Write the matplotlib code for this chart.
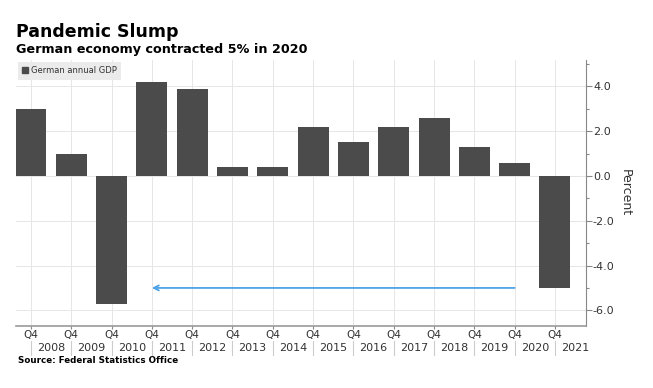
import matplotlib.pyplot as plt
import numpy             as np
from   matplotlib.patches    import Patch
from   matplotlib.ticker     import MultipleLocator
from   matplotlib.transforms import blended_transform_factory


years  = [2007, 2008, 2009, 2010, 2011, 2012, 2013, 2014, 2015, 2016, 2017, 2018, 2019, 2020]
gdp    = [3.0, 1.0, -5.7, 4.2, 3.9, 0.4, 0.4, 2.2, 1.5, 2.2, 2.6, 1.3, 0.6, -5.0]
yearLabels = [str(y + 1) for y in years]   # label between Q4 ticks

# arrow from 2019 back to 2010 at the 2020 level
arrowFrom = 2019
arrowTo   = 2010
arrowY    = -5.0

barColor  = '#4b4b4b'
gridColor = '#e6e6e6'
textColor = '#333333'

x = np.arange(len(years))

fig = plt.figure(figsize=(6.53, 3.88), dpi=100)
ax  = fig.add_axes([16/653, 62/388, (586-16)/653, (326-60)/388])

ax.bar(x, gdp, width=0.77, color=barColor, zorder=2)

ax.set_xlim(-0.37, len(years) - 1 + 0.77)
ax.set_ylim(-6.7, 5.18)

# y axis on the right
ax.yaxis.tick_right()
ax.yaxis.set_label_position('right')
ax.yaxis.set_major_locator(MultipleLocator(2))
ax.yaxis.set_minor_locator(MultipleLocator(1))
ax.yaxis.set_major_formatter(plt.FuncFormatter(lambda v, p: f'{v:.1f}'))
ax.tick_params(axis='y', which='major', length=4, width=0.8, color='#888888',
               labelsize=8, labelcolor=textColor, pad=1)
ax.tick_params(axis='y', which='minor', length=2, width=0.8, color='#888888')
ax.set_ylabel('Percent', rotation=-90, labelpad=12, fontsize=9, color=textColor)

# x axis: Q4 ticks, years between them
ax.set_xticks(x)
ax.set_xticklabels(['Q4'] * len(x))
ax.tick_params(axis='x', length=2, width=0.8, color='#888888',
               labelsize=7.5, labelcolor=textColor, pad=1)

trans = blended_transform_factory(ax.transData, ax.transAxes)
for i, lab in enumerate(yearLabels):
    ax.text(i + 0.5, -0.083, lab, transform=trans, ha='center', va='center',
            fontsize=8, color=textColor)
    ax.plot([i, i], [-0.056, -0.11], transform=trans, color='#cccccc',
            lw=0.8, clip_on=False)

ax.grid(True, color=gridColor, lw=0.7, zorder=0)
ax.set_axisbelow(True)

for side in ['top', 'left']:
    ax.spines[side].set_visible(False)
ax.spines['right'].set_color('#888888')
ax.spines['bottom'].set_color('#999999')
ax.spines['bottom'].set_linewidth(1.2)

# arrow
ax.annotate('', xy=(years.index(arrowTo), arrowY), xytext=(years.index(arrowFrom), arrowY),
            arrowprops=dict(arrowstyle='->', color='#4da3e8', lw=1.3,
                            shrinkA=0, shrinkB=0, mutation_scale=9),
            zorder=3)

leg = ax.legend(handles=[Patch(color=barColor, label='German annual GDP')],
                loc='upper left', bbox_to_anchor=(0, 1.0), borderaxespad=0.2,
                fontsize=6, handlelength=0.7, handleheight=0.7, handletextpad=0.3,
                fancybox=False, framealpha=1, borderpad=0.55)
leg.get_frame().set_facecolor('#ebebeb')
leg.get_frame().set_edgecolor('none')
for t in leg.get_texts():
    t.set_color(textColor)

fig.text(16/653, 1 - 37/388, 'Pandemic Slump', fontsize=12.5, fontweight='bold',
         color='black', va='baseline')
fig.text(16/653, 1 - 53/388, 'German economy contracted 5% in 2020', fontsize=9.2,
         fontweight='bold', color='black', va='baseline')
fig.text(18/653, 1 - 363/388, 'Source: Federal Statistics Office', fontsize=6.3,
         fontweight='bold', color='black', va='baseline')

fig.savefig('out.png', dpi=100, facecolor='white')
